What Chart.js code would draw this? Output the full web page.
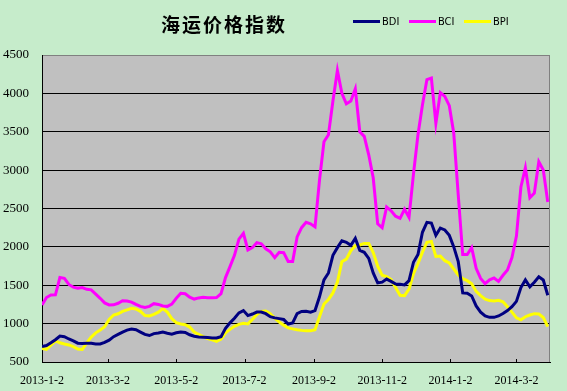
<!DOCTYPE html>
<html>
<head>
<meta charset="utf-8">
<script src="https://cdn.jsdelivr.net/npm/chart.js@4"></script>
<style>
  html, body { margin: 0; padding: 0; background: #C6ECCB; }
  #wrap { width: 567px; height: 391px; }
</style>
</head>
<body>
<div id="wrap"><canvas id="shipChart" width="567" height="391"></canvas></div>
<script>
// chart title and series names
const TITLE = '海运价格指数';
const seriesNames = ['BDI', 'BCI', 'BPI'];

// x axis: days since 2013-1-2, one reading every 4 days
const days = Array.from({ length: 114 }, (_, i) => i * 4);
const tickDays = [0, 59, 120, 181, 243, 304, 365, 424];
const tickLabels = ['2013-1-2', '2013-3-2', '2013-5-2', '2013-7-2', '2013-9-2', '2013-11-2', '2014-1-2', '2014-3-2'];

const bdi = [
    700, 715, 750, 790, 838, 830, 800, 775, 745, 740,
    743, 743, 735, 735, 755, 785, 830, 860, 890, 915,
    930, 920, 890, 860, 845, 870, 878, 890, 875, 862,
    880, 890, 885, 855, 835, 825, 822, 820, 812, 812,
    830, 940, 1010, 1070, 1140, 1170, 1105, 1125, 1150, 1150,
    1130, 1090, 1075, 1065, 1055, 995, 1010, 1130, 1158, 1160,
    1150, 1170, 1350, 1570, 1660, 1890, 1990, 2080, 2060, 2020,
    2110, 1955, 1930, 1850, 1660, 1530, 1540, 1580, 1550, 1515,
    1512, 1505, 1560, 1800, 1900, 2190, 2320, 2310, 2150, 2245,
    2220, 2150, 2000, 1807, 1400, 1395, 1360, 1230, 1150, 1100,
    1082, 1082, 1100, 1132, 1170, 1220, 1290, 1470, 1570, 1480,
    1540, 1610, 1568, 1370
];

const bci = [
    1243, 1340, 1373, 1375, 1600, 1590, 1510, 1475, 1460, 1470,
    1447, 1440, 1385, 1330, 1270, 1243, 1245, 1265, 1298, 1294,
    1280, 1250, 1225, 1210, 1225, 1260, 1250, 1230, 1225, 1255,
    1330, 1395, 1390, 1345, 1320, 1335, 1343, 1338, 1338, 1340,
    1390, 1600, 1742, 1890, 2100, 2177, 1960, 1990, 2055, 2040,
    1975, 1935, 1860, 1930, 1925, 1810, 1810, 2130, 2250, 2320,
    2300, 2260, 2870, 3370, 3460, 3900, 4300, 4000, 3865, 3900,
    4060, 3500, 3440, 3200, 2900, 2300, 2250, 2520, 2470, 2400,
    2372, 2490, 2385, 2950, 3460, 3849, 4180, 4200, 3610, 4010,
    3960, 3840, 3480, 2676, 1900, 1900, 1990, 1720, 1590, 1520,
    1570, 1595, 1550, 1630, 1700, 1860, 2140, 2780, 3032, 2640,
    2700, 3110, 3002, 2585
];

const bpi = [
    678, 665, 720, 775, 750, 735, 722, 700, 668, 665,
    750, 825, 880, 917, 960, 1055, 1112, 1128, 1160, 1180,
    1199, 1192, 1160, 1105, 1100, 1120, 1150, 1195, 1150, 1065,
    1013, 995, 985, 955, 890, 860, 830, 805, 790, 770,
    800, 880, 925, 965, 990, 1004, 995, 1055, 1120, 1160,
    1165, 1130, 1070, 1020, 980, 945, 932, 920, 912, 908,
    908, 920, 1090, 1255, 1315, 1400, 1540, 1807, 1840, 1950,
    2015, 2025, 2045, 2045, 1925, 1750, 1630, 1612, 1575, 1470,
    1370, 1365, 1450, 1650, 1780, 1930, 2060, 2070, 1875, 1880,
    1820, 1790, 1712, 1634, 1585, 1560, 1520, 1420, 1365, 1320,
    1300, 1295, 1305, 1285, 1220, 1150, 1075, 1050, 1090, 1112,
    1130, 1125, 1080, 960
];

const seriesColors = ['#000080', '#FF00FF', '#FFFF00'];

function toPoints(values) {
    return values.map((v, i) => ({ x: days[i], y: v }));
}

// grey plot area, grey frame on top/right, small inward x ticks
const plotDecor = {
    id: 'plotDecor',
    beforeDraw(chart) {
        const { ctx, chartArea } = chart;
        ctx.save();
        ctx.fillStyle = '#C0C0C0';
        ctx.fillRect(chartArea.left, chartArea.top, chartArea.right - chartArea.left, chartArea.bottom - chartArea.top);
        ctx.restore();
    },
    beforeDatasetsDraw(chart) {
        const { ctx, chartArea } = chart;
        const xScale = chart.scales.x;
        ctx.save();
        ctx.strokeStyle = '#808080';
        ctx.lineWidth = 1;
        ctx.beginPath();
        ctx.moveTo(Math.round(chartArea.right) - 0.5, chartArea.top);
        ctx.lineTo(Math.round(chartArea.right) - 0.5, chartArea.bottom);
        ctx.stroke();
        ctx.strokeStyle = '#000';
        tickDays.forEach(d => {
            const px = Math.round(xScale.getPixelForValue(d)) + 0.5;
            ctx.beginPath();
            ctx.moveTo(px, chartArea.bottom - 3);
            ctx.lineTo(px, chartArea.bottom);
            ctx.stroke();
        });
        ctx.restore();
    },
    afterDraw(chart) {
        const { ctx } = chart;
        ctx.save();
        // title
        ctx.fillStyle = '#000';
        ctx.font = 'bold 19px "Noto Sans CJK SC"';
        ctx.letterSpacing = '2px';
        ctx.textAlign = 'center';
        ctx.textBaseline = 'middle';
        ctx.fillText(TITLE, 224, 25);
        ctx.letterSpacing = '0px';
        // legend
        const legendX = [353, 409, 464];
        ctx.font = '11px "Liberation Sans Narrow", "DejaVu Sans Condensed", sans-serif';
        ctx.textAlign = 'left';
        chart.data.datasets.forEach((ds, i) => {
            const x0 = legendX[i];
            ctx.strokeStyle = ds.borderColor;
            ctx.lineWidth = 3;
            ctx.beginPath();
            ctx.moveTo(x0, 21.5);
            ctx.lineTo(x0 + 27, 21.5);
            ctx.stroke();
            ctx.fillStyle = '#000';
            ctx.fillText(ds.label, x0 + 29, 22);
        });
        ctx.restore();
    }
};

const ctx = document.getElementById('shipChart').getContext('2d');
new Chart(ctx, {
    type: 'line',
    data: {
        datasets: [
            { label: seriesNames[0], data: toPoints(bdi), borderColor: seriesColors[0], backgroundColor: seriesColors[0] },
            { label: seriesNames[1], data: toPoints(bci), borderColor: seriesColors[1], backgroundColor: seriesColors[1] },
            { label: seriesNames[2], data: toPoints(bpi), borderColor: seriesColors[2], backgroundColor: seriesColors[2] }
        ]
    },
    options: {
        responsive: false,
        animation: false,
        layout: {
            padding: { top: 55, right: 17, bottom: 0, left: 0 }
        },
        elements: {
            line: { borderWidth: 3, tension: 0 },
            point: { radius: 0 }
        },
        plugins: {
            legend: { display: false },
            title: { display: false },
            tooltip: { enabled: false }
        },
        scales: {
            x: {
                type: 'linear',
                min: 0,
                max: 454,
                afterBuildTicks: axis => {
                    axis.ticks = tickDays.map(v => ({ value: v }));
                },
                afterFit: axis => { axis.height = 29; },
                grid: { display: false, drawTicks: false },
                border: { color: '#000', width: 1 },
                ticks: {
                    autoSkip: false,
                    maxRotation: 0,
                    padding: 12,
                    color: '#000',
                    font: { family: '"Liberation Serif", serif', size: 12 },
                    callback: (value, index) => tickLabels[index]
                }
            },
            y: {
                min: 500,
                max: 4500,
                afterFit: axis => { axis.width = 42; },
                grid: {
                    drawTicks: false,
                    color: c => (c.tick && c.tick.value === 4500 ? '#808080' : '#000'),
                    lineWidth: 1
                },
                border: { color: '#000', width: 1 },
                ticks: {
                    stepSize: 500,
                    padding: 13,
                    color: '#000',
                    font: { family: '"Liberation Serif", serif', size: 13 },
                    callback: value => String(value)
                }
            }
        }
    },
    plugins: [plotDecor]
});
</script>
</body>
</html>
